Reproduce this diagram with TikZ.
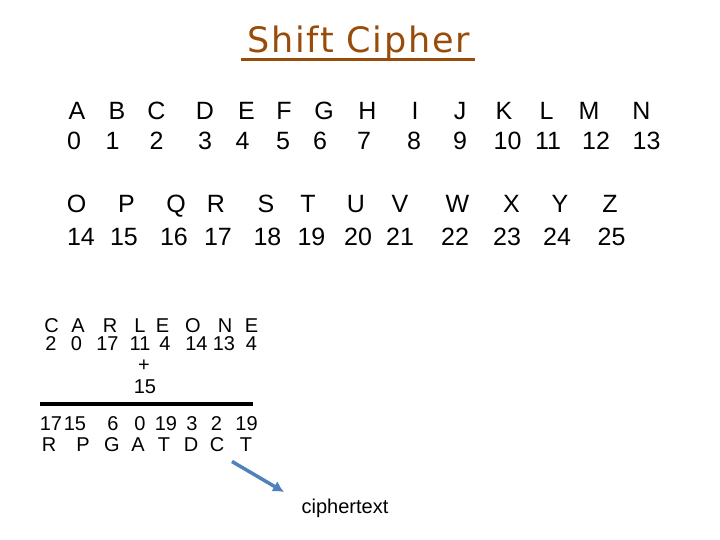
\documentclass[tikz,border=0pt]{standalone}
\usepackage{fontspec}
\setmainfont{Liberation Sans}
\newfontfamily\titlefont[LetterSpace=5]{DejaVu Sans}
\usetikzlibrary{arrows.meta}
\definecolor{titlebrown}{RGB}{153,76,10}
\definecolor{arrowblue}{RGB}{79,129,189}
\begin{document}
\begin{tikzpicture}[x=1pt,y=-1pt,
  big/.style={inner sep=0pt,anchor=base,font=\fontsize{25}{28}\selectfont},
  small/.style={inner sep=0pt,anchor=base,font=\fontsize{20}{22}\selectfont},
  ttl/.style={inner sep=0pt,anchor=base,text=titlebrown,font=\titlefont\fontsize{35}{40}\selectfont}]
\useasboundingbox[fill=white] (0,0) rectangle (720,540);
% title
\node[ttl] (title) at (358.5,53) {Shift Cipher};
\draw[titlebrown,line width=3.5pt] (241,59.5) -- (475,59.5);
% alphabet table
\foreach \l/\n/\lx/\nx [count=\i] in {A/0/77/74,B/1/117/112.5,C/2/156.5/156.5,D/3/205/205,E/4/246.5/242.5,F/5/284/283,G/6/324/320,H/7/367.5/364,I/8/415/414,J/9/460/460,K/10/504/507.5,L/11/546.5/548,M/12/589/596,N/13/641.5/646.5}{
  \node[big] (L\i) at (\lx,120) {\l};
  \node[big] (N\i) at (\nx,150) {\n};
}
\foreach \l/\n/\lx/\nx [count=\i from 15] in {O/14/76.5/81,P/15/126.5/124,Q/16/176/174,R/17/216/218,S/18/266/267.5,T/19/308/311.5,U/20/356/358,V/21/400/400,W/22/457.5/455,X/23/511.5/507,Y/24/560/557,Z/25/610/611.5}{
  \node[big] (L\i) at (\lx,213) {\l};
  \node[big] (N\i) at (\nx,245) {\n};
}
% example
\foreach \l/\n/\lx/\nx [count=\i] in {C/2/51.5/51,A/0/78/76.5,R/17/110/107.5,L/11/140/140,E/4/162.5/165,O/14/193/196.5,N/13/225/224,E/4/251.5/251.5}{
  \node[small] (P\i) at (\lx,332) {\l};
  \node[small] (PN\i) at (\nx,350) {\n};
}
\node[small] (plus) at (144,371) {+};
\node[small] (key) at (145,393) {15};
\draw[line width=4pt] (40,403.7) -- (253,403.7);
\foreach \l/\n/\lx/\nx [count=\i] in {R/17/49/51,P/15/83/75,G/6/112/113,A/0/138/140,T/19/164/166,D/3/191/192,C/2/217/216.5,T/19/246/246.5}{
  \node[small] (CN\i) at (\nx,430) {\n};
  \node[small] (C\i) at (\lx,451) {\l};
}
\node[inner sep=0pt,anchor=base,font=\fontsize{20}{24}\selectfont] (ct) at (345,513) {ciphertext};
\coordinate (as) at (232,461.5);
\coordinate (ae) at (284,492);
\draw[arrowblue,line width=3.5pt,-{Latex[length=11pt,width=12pt]}] (as) -- (ae);
\end{tikzpicture}
\end{document}
